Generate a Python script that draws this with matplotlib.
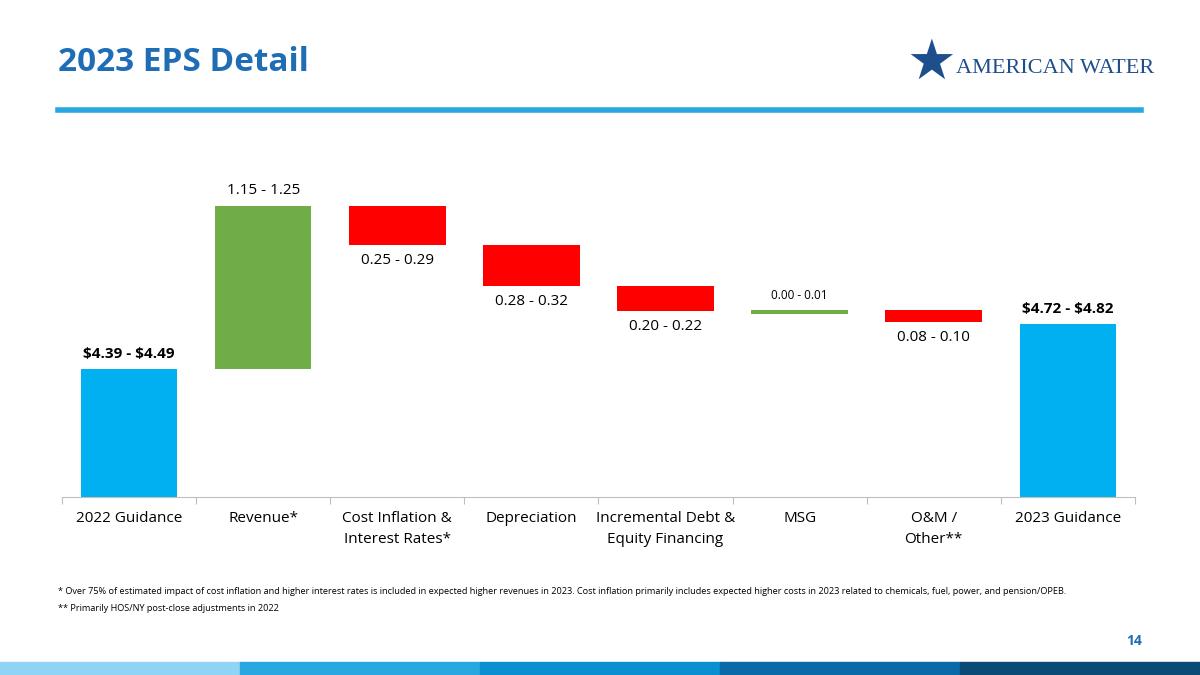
import matplotlib
matplotlib.use("Agg")
import matplotlib.pyplot as plt

categories = ["2022 Guidance", "Revenue*", "Cost Inflation &\nInterest Rates*", "Depreciation",
              "Incremental Debt &\nEquity Financing", "MSG", "O&M /\nOther**", "2023 Guidance"]
# midpoints of the ranges
changes = [4.44, 1.20, -0.29, -0.30, -0.18, 0.005, -0.09, 4.77]
labels = [r"\$4.39 - \$4.49", "1.15 - 1.25", "0.25 - 0.29", "0.28 - 0.32",
          "0.20 - 0.22", "0.00 - 0.01", "0.08 - 0.10", r"\$4.72 - \$4.82"]

blue, green, red = "#00b0f0", "#70ad47", "#ff0000"
ymin = 3.5

fig = plt.figure(figsize=(12, 6.75), dpi=100)
plt.rcParams['font.family'] = ['Open Sans', 'DejaVu Sans']

fig.text(0.048, 0.895, "2023 EPS Detail", fontsize=24, fontweight="bold", color="#1f6db5")
fig.text(0.776, 0.905, "\u2605", fontsize=40, color="#1f4e8c", ha="center", va="center")
fig.text(0.797, 0.898, "AMERICAN WATER", fontsize=16, color="#1f4e8c", va="center",
         family="Liberation Serif")
fig.add_artist(plt.Line2D([0.048, 0.951], [0.837, 0.837], color="#29a8e0", lw=4))

ax = fig.add_axes([0.0517, 0.2637, 0.894, 0.504])
running = 0
for i, c in enumerate(changes):
    if i == 0 or i == len(changes) - 1:
        bottom, height, col = ymin, c - ymin, blue
        running = c
    else:
        start = running
        running = running + c
        bottom, height = min(start, running), abs(c)
        col = green if c > 0 else red
    if i == 5:
        height = 0.03
        bottom = running - 0.03
    ax.bar(i, height, bottom=bottom, width=0.72, color=col)
    top = bottom + height
    bold = i in (0, 7)
    if i in (0, 1, 5, 7):
        ax.text(i, top + 0.06, labels[i], ha="center", va="bottom",
                fontsize=8.5 if i == 5 else 11, fontweight="bold" if bold else "normal")
    else:
        ax.text(i, bottom - 0.06, labels[i], ha="center", va="top", fontsize=11)

ax.set_xlim(-0.5, len(categories) - 0.5)
ax.set_ylim(ymin, 6.0)
for s in ["top", "right", "left"]:
    ax.spines[s].set_visible(False)
ax.spines["bottom"].set_color("#bfbfbf")
ax.set_yticks([])
ax.set_xticks([i + 0.5 for i in range(-1, len(categories))])
ax.set_xticklabels([])
ax.tick_params(axis="x", length=5, color="#bfbfbf")
for i, c in enumerate(categories):
    ax.text(i, ymin - 0.1, c, ha="center", va="top", fontsize=11, linespacing=1.6)

fig.text(0.048, 0.12, "* Over 75% of estimated impact of cost inflation and higher interest rates is included in expected "
         "higher revenues in 2023. Cost inflation primarily includes expected higher costs in 2023 related to chemicals, "
         "fuel, power, and pension/OPEB.", fontsize=6.6)
fig.text(0.048, 0.095, "** Primarily HOS/NY post-close adjustments in 2022", fontsize=6.6)
fig.text(0.952, 0.045, "14", fontsize=10, fontweight="bold", color="#1f6db5", ha="right")

seg_cols = ["#8fd3f5", "#29a8e0", "#0a8fd0", "#0a6aa8", "#0b4a75"]
for k, c in enumerate(seg_cols):
    fig.add_artist(plt.Rectangle((k * 0.2, 0), 0.2, 0.02, color=c, transform=fig.transFigure))

fig.savefig("out.png", dpi=100)
